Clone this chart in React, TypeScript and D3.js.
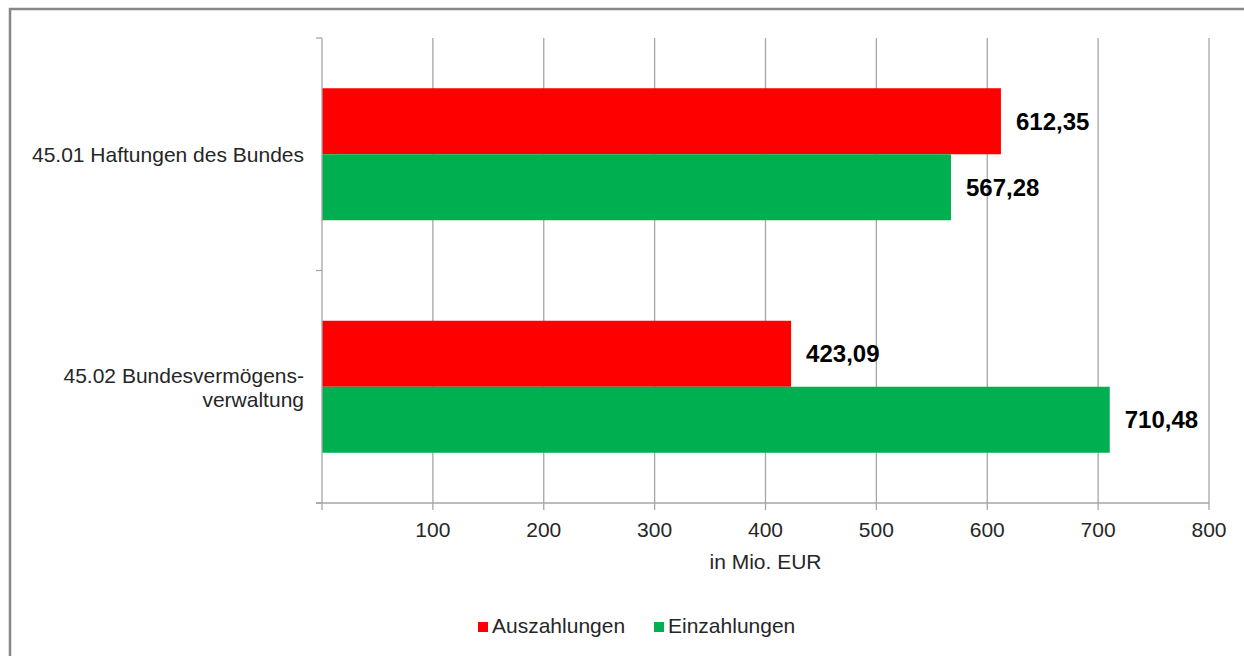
import React from "react";
import * as d3 from "d3";

const categories = ["45.01 Haftungen des Bundes", "45.02 Bundesvermögens-\nverwaltung"];
const seriesNames = ["Auszahlungen", "Einzahlungen"];
const auszahlungen = [612.35, 423.09];
const einzahlungen = [567.28, 710.48];
const xTicks = [100, 200, 300, 400, 500, 600, 700, 800];
const seriesColors = ["#ff0000", "#00b050"];

const W = 1244, H = 656;
const FONT = "'Liberation Sans', Arial, sans-serif";

export default function App() {
  const x = d3.scaleLinear().domain([0, 800]).range([322, 1209]);
  const y = d3.scaleBand<string>().domain(categories).range([38, 503]);
  const bw = y.bandwidth();
  const barH = 66;
  const ySeries = d3.scaleBand<string>().domain(seriesNames)
    .range([(bw - 2 * barH) / 2, (bw + 2 * barH) / 2]);
  const values = [auszahlungen, einzahlungen];
  const fmt = (v: number) => v.toFixed(2).replace(".", ",");
  const axisColor = "#a6a6a6";
  const [y0, y1] = y.range();

  return (
    <svg width={W} height={H} style={{ position: "fixed", left: 0, top: 0, background: "#fff" }}
      fontFamily={FONT}>
      <rect x={10} y={9} width={W + 20} height={H + 20} fill="#fff" stroke="#878787" strokeWidth={2.5} />
      {/* gridlines */}
      {xTicks.map((t) => (
        <line key={t} x1={x(t)} x2={x(t)} y1={y0} y2={y1 + 7} stroke={axisColor} strokeWidth={1.3} />
      ))}
      {/* bars */}
      {categories.map((c, ci) =>
        seriesNames.map((s, si) => {
          const v = values[si][ci];
          const by = (y(c) ?? 0) + (ySeries(s) ?? 0);
          return (
            <g key={c + s}>
              <rect x={x(0)} y={by} width={x(v) - x(0)} height={ySeries.bandwidth()} fill={seriesColors[si]} />
              <text x={x(v) + 15} y={by + ySeries.bandwidth() / 2 + 8.5} fontSize={24} fontWeight="bold" fill="#000">
                {fmt(v)}
              </text>
            </g>
          );
        })
      )}
      {/* axes */}
      <line x1={x(0)} x2={x(0)} y1={y0} y2={y1 + 7} stroke={axisColor} strokeWidth={1.3} />
      <line x1={x(0) - 6} x2={x(800)} y1={y1} y2={y1} stroke={axisColor} strokeWidth={1.3} />
      {[y0, y0 + bw, y1].map((v, i) => (
        <line key={i} x1={x(0) - 6} x2={x(0)} y1={v} y2={v} stroke={axisColor} strokeWidth={1.3} />
      ))}
      {xTicks.map((t) => (
        <text key={t} x={x(t)} y={537} textAnchor="middle" fontSize={21} fill="#262626">{t}</text>
      ))}
      <text x={(x(0) + x(800)) / 2} y={569} textAnchor="middle" fontSize={21} fill="#262626">in Mio. EUR</text>
      {/* category labels */}
      {categories.map((c) => {
        const lines = c.split("\n");
        const cy = (y(c) ?? 0) + bw / 2;
        const lh = 24;
        const startBase = cy + 8 - ((lines.length - 1) * lh) / 2;
        return (
          <text key={c} textAnchor="end" fontSize={21} fill="#262626">
            {lines.map((l, i) => (
              <tspan key={i} x={304} y={startBase + i * lh}>{l}</tspan>
            ))}
          </text>
        );
      })}
      {/* legend */}
      {seriesNames.map((s, i) => {
        const lx = [478, 654][i];
        return (
          <g key={s}>
            <rect x={lx} y={622} width={10} height={10} fill={seriesColors[i]} />
            <text x={lx + 14} y={633} fontSize={21} fill="#262626">{s}</text>
          </g>
        );
      })}
    </svg>
  );
}
